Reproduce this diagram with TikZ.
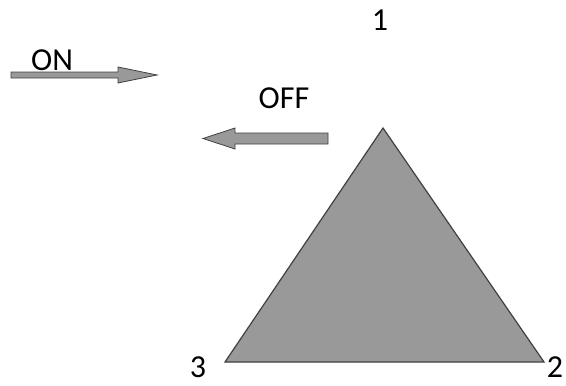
\documentclass[tikz,border=0pt]{standalone}
\usepackage{fontspec}
\setmainfont{Carlito}
\tikzset{every picture/.style={line width=0.75pt}}
\tikzset{
  grain/.style={draw=black!75, fill=black!40, line width=0.6pt},
  lbl/.style={inner sep=0.75pt, font=\fontsize{24}{28}\selectfont}
}

\begin{document}
\begin{tikzpicture}[x=0.75pt,y=0.75pt,yscale=-1,xscale=1]
\useasboundingbox (0,0) rectangle (566,385);

%Shape: Triangle [id:tri1]
\draw [grain, line width=0.9pt]  (383,128) -- (544,362) -- (225,362) -- cycle ;
%Shape: Right Arrow [id:arrOn]
\draw [grain]  (11,72) -- (118,72) -- (118,67) -- (157,75) -- (118,83) -- (118,78) -- (11,78) -- cycle ;
%Shape: Left Arrow [id:arrOff]
\draw [grain]  (328,133) -- (235,133) -- (235,128) -- (203,138.5) -- (235,149) -- (235,144) -- (328,144) -- cycle ;

% Text Node
\node [lbl] (on) at (52,60) {ON};
% Text Node
\node [lbl] (off) at (284,98) {OFF};
% Text Node
\node [lbl] (v1) at (380,20) {1};
% Text Node
\node [lbl] (v2) at (555,367) {2};
% Text Node
\node [lbl] (v3) at (198,367) {3};

\end{tikzpicture}
\end{document}
